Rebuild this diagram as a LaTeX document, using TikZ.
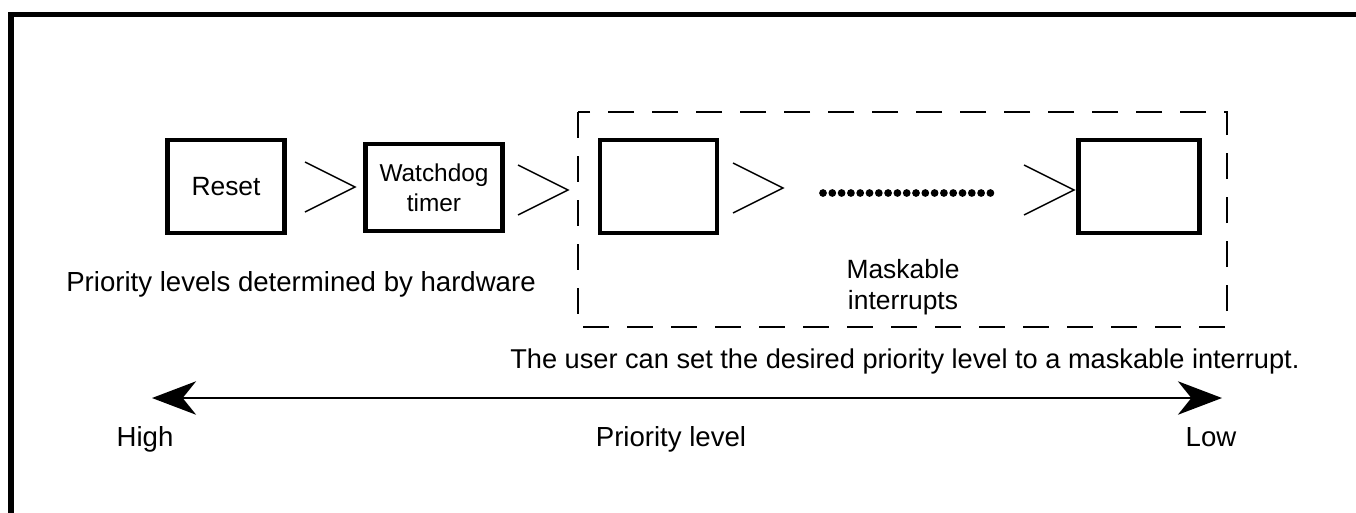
\documentclass[tikz,border=0pt]{standalone}
\usepackage{fontspec}
\setmainfont{Liberation Sans}
\usetikzlibrary{arrows.meta,positioning}

\begin{document}
\begin{tikzpicture}[x=0.75pt,y=-0.75pt,
  txt/.style={font=\fontsize{19.8}{23.3}\selectfont,inner sep=0pt},
  note/.style={font=\fontsize{20.7}{24}\selectfont,inner sep=0pt},
  blk/.style={draw,line width=3.4pt,inner sep=0pt,align=center,
    minimum height=69.5pt},
  gt/.pic={\draw[line width=1.1pt] (-50,-25) -- (0,0) -- (-50,25);},
  prio/.style={{Stealth[length=33pt,width=25pt,inset=10pt]}-{Stealth[length=33pt,width=25pt,inset=10pt]},
    line width=2pt}
]
  \useasboundingbox (0,0) rectangle (1356,512);
  \draw[line width=4.2pt] (11,514) -- (11,14.5) -- (1358,14.5);
  % interrupt sources
  \node[blk,txt,minimum width=88pt] (reset) at (226,186.5) {Reset};
  \node[blk,font=\fontsize{18.3}{22.5}\selectfont,minimum width=103pt,
    minimum height=65pt] (wdog) at (434,187.5) {Watchdog\\timer};
  \node[blk,minimum width=87.5pt] (m1) at (658.5,186.5) {};
  \node[blk,minimum width=91pt] (mn) at (1139,186.5) {};
  \pic at (355,187) {gt};
  \pic at (568,190) {gt};
  \pic at (783,188) {gt};
  \pic at (1074,190) {gt};
  \foreach \i in {0,...,18}
    \fill (823+\i*9.3,193) circle (2.9pt);
  \draw[line width=1.8pt,dash pattern=on 19.5pt off 13.5pt]
    (578,112) rectangle (1227,327);
  \node[txt,align=center] (mask) at (903,287) {Maskable\\interrupts};
  \node[note,anchor=base] (hw) at (301,291) {Priority levels determined by hardware};
  \node[note,anchor=base west,font=\fontsize{20.4}{24}\selectfont] (user) at (510,368)
    {The user can set the desired priority level to a maskable interrupt.};
  % priority axis
  \coordinate (hi) at (152,398);
  \coordinate (lo) at (1222,398);
  \draw[prio] (hi) -- (lo);
  \node[note,anchor=base] (high) at (145,446) {High};
  \node[note,anchor=base] (plev) at (671,446) {Priority level};
  \node[note,anchor=base] (low) at (1211,446) {Low};
\end{tikzpicture}
\end{document}
